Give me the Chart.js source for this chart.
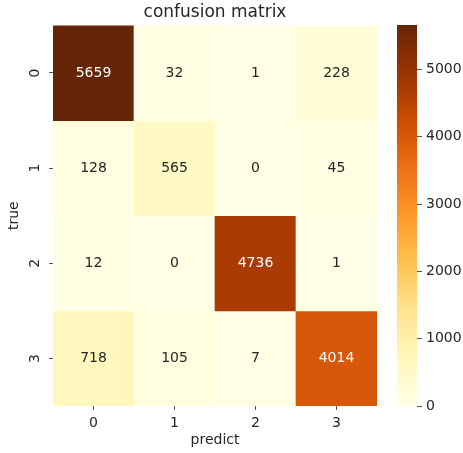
<!DOCTYPE html>
<html>
<head>
<meta charset="utf-8">
<script src="https://cdn.jsdelivr.net/npm/chart.js@4/dist/chart.umd.min.js"></script>
<style>
  html, body { margin: 0; padding: 0; background: #ffffff; }
  #wrap { position: relative; width: 463px; height: 453px; overflow: hidden; }
  #heat { position: absolute; left: 0; top: 0; }
  #bar { position: absolute; left: 380px; top: 0; }
</style>
</head>
<body>
<div id="wrap">
  <canvas id="heat" width="390" height="453"></canvas>
  <canvas id="bar" width="83" height="453"></canvas>
</div>
<script>
// Class labels on each axis
const predictLabels = ['0', '1', '2', '3'];
const trueLabels = ['0', '1', '2', '3'];

// Counts per true class (rows), one entry per predicted class
const row0 = [5659, 32, 1, 228];
const row1 = [128, 565, 0, 45];
const row2 = [12, 0, 4736, 1];
const row3 = [718, 105, 7, 4014];
const rows = [row0, row1, row2, row3];

// Colour bar ticks
const colorbarTicks = [0, 1000, 2000, 3000, 4000, 5000];

const vmin = 0;
const vmax = Math.max(...rows.flat());

// YlOrBr colour map stops
const ylOrBr = [
  [255, 255, 229], [255, 247, 188], [254, 227, 145], [254, 196, 79],
  [254, 153, 41], [236, 112, 20], [204, 76, 2], [153, 52, 4], [102, 37, 6]
];

function cmapRGB(t) {
  t = Math.min(1, Math.max(0, t));
  const pos = t * (ylOrBr.length - 1);
  const i = Math.min(ylOrBr.length - 2, Math.floor(pos));
  const f = pos - i;
  const a = ylOrBr[i], b = ylOrBr[i + 1];
  return [0, 1, 2].map(k => a[k] + (b[k] - a[k]) * f);
}
function cmap(t) {
  const c = cmapRGB(t).map(Math.round);
  return 'rgb(' + c.join(',') + ')';
}
function luminance(rgb) {
  const lin = rgb.map(v => {
    v = v / 255;
    return v <= 0.03928 ? v / 12.92 : Math.pow((v + 0.055) / 1.055, 2.4);
  });
  return 0.2126 * lin[0] + 0.7152 * lin[1] + 0.0722 * lin[2];
}

const textColor = '#262626';
const tickColor = '#555555';
const fontFamily = '"DejaVu Sans", sans-serif';

// One floating-bar dataset per true class; each bar spans its row band
const datasets = rows.map((row, i) => ({
  label: 'true ' + trueLabels[i],
  data: row.map((v, j) => ({ x: predictLabels[j], y: [i, i + 1], v: v })),
  backgroundColor: ctx => cmap((ctx.raw.v - vmin) / (vmax - vmin)),
  borderWidth: 0,
  barPercentage: 1,
  categoryPercentage: 1,
  grouped: false
}));

// Writes each cell's count at its centre
const cellLabels = {
  id: 'cellLabels',
  afterDatasetsDraw(chart) {
    const c = chart.ctx;
    c.save();
    c.font = '14px ' + fontFamily;
    c.textAlign = 'center';
    c.textBaseline = 'middle';
    chart.data.datasets.forEach((ds, di) => {
      const meta = chart.getDatasetMeta(di);
      meta.data.forEach((el, k) => {
        const v = ds.data[k].v;
        const rgb = cmapRGB((v - vmin) / (vmax - vmin));
        c.fillStyle = luminance(rgb) > 0.408 ? textColor : '#ffffff';
        c.fillText(String(v), el.x, (el.y + el.base) / 2);
      });
    });
    c.restore();
  }
};

new Chart(document.getElementById('heat'), {
  type: 'bar',
  data: { labels: predictLabels, datasets: datasets },
  plugins: [cellLabels],
  options: {
    responsive: false,
    animation: false,
    layout: { padding: { top: 0, right: 13, bottom: 0, left: 0 } },
    plugins: {
      legend: { display: false },
      tooltip: { enabled: false },
      title: {
        display: true,
        text: 'confusion matrix',
        fullSize: false,
        color: textColor,
        font: { family: fontFamily, size: 17, weight: 'normal' },
        padding: { top: 2, bottom: 3 }
      }
    },
    scales: {
      x: {
        type: 'category',
        offset: true,
        border: { display: false },
        grid: { offset: false, drawOnChartArea: false, drawTicks: true, tickLength: 4, color: tickColor },
        ticks: { color: textColor, font: { family: fontFamily, size: 14 }, padding: 5, maxRotation: 0 },
        title: {
          display: true, text: 'predict', color: textColor,
          font: { family: fontFamily, size: 14 }, padding: { top: 2, bottom: 4 }
        },
        afterFit(scale) { scale.height = 47; }
      },
      y: {
        type: 'linear',
        min: 0,
        max: 4,
        reverse: true,
        border: { display: false },
        grid: { drawOnChartArea: false, drawTicks: true, tickLength: 4, color: tickColor },
        afterBuildTicks(scale) {
          scale.ticks = trueLabels.map((_, i) => ({ value: i + 0.5 }));
        },
        ticks: {
          color: textColor,
          font: { family: fontFamily, size: 14 },
          padding: 9,
          crossAlign: 'center',
          minRotation: 90,
          maxRotation: 90,
          callback: (value, index) => trueLabels[index]
        },
        title: {
          display: true, text: 'true', color: textColor,
          font: { family: fontFamily, size: 14 }, padding: { top: 6, bottom: 2 }
        },
        afterFit(scale) { scale.width = 53; }
      }
    }
  }
});

// Colour bar: a single floating bar from vmin to vmax filled with the colour map
new Chart(document.getElementById('bar'), {
  type: 'bar',
  data: {
    labels: ['scale'],
    datasets: [{
      data: [[vmin, vmax]],
      borderWidth: 0,
      barPercentage: 1,
      categoryPercentage: 1,
      backgroundColor: ctx => {
        const chart = ctx.chart;
        if (!chart.chartArea) return cmap(0.5);
        const ys = chart.scales.y;
        const y0 = ys.getPixelForValue(vmin);
        const y1 = ys.getPixelForValue(vmax);
        const g = chart.ctx.createLinearGradient(0, y0, 0, y1);
        ylOrBr.forEach((c, i) => g.addColorStop(i / (ylOrBr.length - 1), 'rgb(' + c.join(',') + ')'));
        return g;
      }
    }]
  },
  options: {
    responsive: false,
    animation: false,
    layout: { padding: { top: 25, right: 0, bottom: 47, left: 17 } },
    plugins: { legend: { display: false }, tooltip: { enabled: false } },
    scales: {
      x: { display: false },
      y: {
        position: 'right',
        min: vmin,
        max: vmax,
        border: { display: false },
        grid: { drawOnChartArea: false, drawTicks: true, tickLength: 5, color: tickColor },
        afterBuildTicks(scale) {
          scale.ticks = colorbarTicks.map(v => ({ value: v }));
        },
        ticks: {
          color: textColor,
          font: { family: fontFamily, size: 14 },
          padding: 4,
          callback: value => String(value)
        },
        afterFit(scale) { scale.width = 46; }
      }
    }
  }
});
</script>
</body>
</html>
